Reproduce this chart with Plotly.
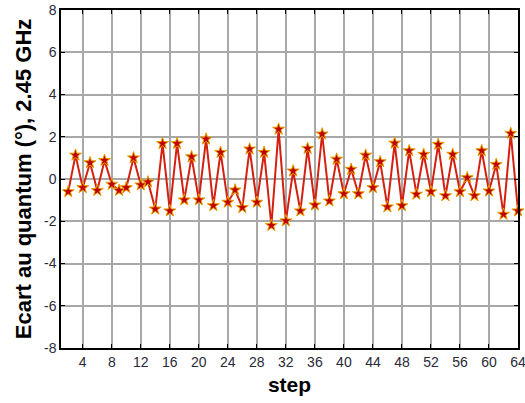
import plotly.graph_objects as go

steps = list(range(2, 65))
ecart = [-0.60, 1.13, -0.41, 0.77, -0.54, 0.88, -0.25, -0.54, -0.41, 1.00,
         -0.28, -0.14, -1.42, 1.68, -1.51, 1.68, -0.99, 1.05, -0.99, 1.89,
         -1.26, 1.26, -1.10, -0.52, -1.35, 1.42, -1.10, 1.26, -2.20, 2.36,
         -1.98, 0.38, -1.51, 1.45, -1.23, 2.13, -1.04, 0.94, -0.70, 0.46,
         -0.70, 1.13, -0.41, 0.82, -1.32, 1.70, -1.26, 1.34, -0.72, 1.17,
         -0.60, 1.64, -0.79, 1.17, -0.60, 0.06, -0.79, 1.34, -0.57, 0.69,
         -1.67, 2.16, -1.51]
x_ticks = list(range(4, 65, 4))
y_ticks = list(range(-8, 9, 2))
y_tick_labels = [str(v) for v in y_ticks]

fig = go.Figure()
fig.add_trace(go.Scatter(
    x=steps, y=ecart, mode="lines+markers",
    line=dict(color="#d42010", width=2),
    marker=dict(symbol="star", size=9, color="#c00000",
                line=dict(color="#e8a000", width=1)),
    showlegend=False,
    cliponaxis=False,
))

axis_common = dict(
    showline=True, linecolor="black", linewidth=1.5, mirror="ticks",
    ticks="inside", ticklen=4, tickcolor="black",
    showgrid=True, gridcolor="#a8a8a8", gridwidth=1.5,
    zeroline=False, automargin=False, ticklabeloverflow="allow",
    tickfont=dict(family="Liberation Sans, Arial", size=14, color="#2a2a3a"),
)

fig.update_xaxes(range=[1, 64], tickvals=x_ticks, **axis_common,
                 title=dict(text="<b>step</b>", standoff=9,
                            font=dict(family="Liberation Sans, Arial", size=21, color="black")))
fig.update_yaxes(range=[-8, 8], tickvals=y_ticks, ticktext=y_tick_labels, **axis_common,
                 title=dict(text="<b>Ecart au quantum (°), 2.45 GHz</b>", standoff=6,
                            font=dict(family="Liberation Sans, Arial", size=22, color="black")))

fig.update_layout(
    width=525, height=403,
    margin=dict(l=61, r=7, t=10, b=55),
    paper_bgcolor="white", plot_bgcolor="white",
)

fig.write_html("out.html", config={"displayModeBar": False},
               post_script="document.body.style.margin='0';document.body.style.overflow='hidden';")
